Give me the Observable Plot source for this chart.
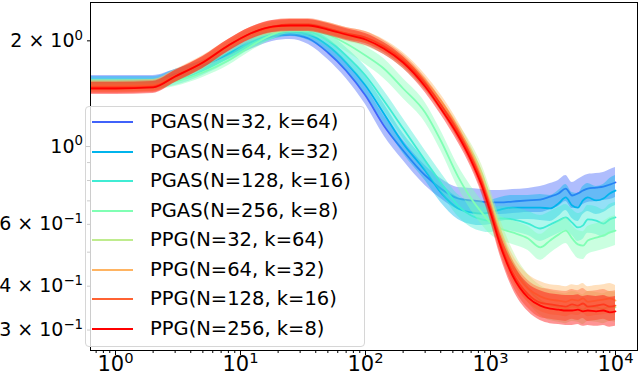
<!DOCTYPE html>
<html><head><meta charset="utf-8">
<script src="https://cdn.jsdelivr.net/npm/d3@7"></script>
<script src="https://cdn.jsdelivr.net/npm/@observablehq/plot@0.6"></script>
<style>
html,body{margin:0;padding:0;background:#fff;}
#wrap{position:relative;width:640px;height:376px;font-family:"DejaVu Sans",sans-serif;}
#legend{position:absolute;left:85px;top:106px;width:280px;height:241px;border:1px solid #d6d6d6;border-radius:4px;background:rgba(255,255,255,0.8);box-sizing:border-box;}
.row{position:absolute;left:0;width:100%;height:30px;}
.sw{position:absolute;left:6px;width:41px;height:2px;top:14px;}
.lb{position:absolute;left:64px;top:0;line-height:30px;font-size:19.5px;color:#000;white-space:nowrap;}
</style></head>
<body><div id="wrap"></div>
<script>
const xs = [0.631, 1, 2, 3, 5, 8, 12, 18, 25, 35, 50, 70, 100, 140, 200, 300, 400, 550, 700, 850, 1000, 1200, 1500, 2000, 2500, 3000, 3500, 4000, 4500, 5000, 5500, 6000, 7000, 8000, 9000, 10000];

const names = ["PGAS(N=32, k=64)", "PGAS(N=64, k=32)", "PGAS(N=128, k=16)", "PGAS(N=256, k=8)",
               "PPG(N=32, k=64)", "PPG(N=64, k=32)", "PPG(N=128, k=16)", "PPG(N=256, k=8)"];
const colors = ["#4062fa", "#00b4ec", "#40ecd4", "#80ffb4", "#bfec8e", "#ffb462", "#ff6232", "#ff0000"];

const pgas32 = [1.542,1.542,1.542,1.604,1.701,1.829,1.952,2.058,2.085,2.031,1.853,1.646,1.397,1.148,0.974,0.827,0.759,0.711,0.702,0.697,0.693,0.693,0.697,0.702,0.706,0.720,0.735,0.759,0.725,0.735,0.749,0.759,0.764,0.769,0.779,0.790];
const pgas64 = [1.532,1.532,1.532,1.604,1.701,1.841,1.978,2.085,2.126,2.085,1.940,1.735,1.492,1.242,1.020,0.854,0.740,0.666,0.649,0.644,0.649,0.661,0.670,0.670,0.670,0.666,0.688,0.716,0.679,0.670,0.702,0.716,0.702,0.711,0.735,0.749];
const pgas128 = [1.512,1.512,1.512,1.542,1.646,1.793,1.952,2.085,2.140,2.126,2.004,1.816,1.593,1.352,1.125,0.912,0.790,0.679,0.636,0.620,0.615,0.624,0.620,0.603,0.584,0.599,0.615,0.628,0.607,0.588,0.596,0.620,0.615,0.603,0.620,0.628];
const pgas256 = [1.502,1.502,1.502,1.532,1.625,1.758,1.928,2.085,2.168,2.154,2.085,1.965,1.816,1.668,1.463,1.250,1.040,0.821,0.711,0.649,0.607,0.584,0.569,0.547,0.516,0.540,0.561,0.576,0.547,0.526,0.522,0.540,0.550,0.558,0.569,0.576];
const ppg32 = [1.492,1.492,1.492,1.583,1.724,1.915,2.071,2.168,2.197,2.197,2.154,2.071,2.004,1.902,1.735,1.502,1.317,1.111,0.974,0.843,0.711,0.576,0.467,0.394,0.364,0.352,0.348,0.345,0.350,0.348,0.343,0.350,0.348,0.345,0.350,0.348];
const ppg64 = [1.482,1.482,1.492,1.593,1.747,1.940,2.099,2.183,2.212,2.212,2.168,2.099,2.044,1.940,1.781,1.542,1.352,1.125,0.955,0.811,0.679,0.550,0.452,0.394,0.374,0.366,0.364,0.361,0.366,0.364,0.369,0.361,0.364,0.366,0.369,0.364];
const ppg128 = [1.473,1.473,1.482,1.583,1.735,1.940,2.099,2.197,2.226,2.226,2.168,2.099,2.044,1.928,1.758,1.512,1.317,1.096,0.930,0.790,0.661,0.533,0.438,0.379,0.359,0.355,0.352,0.350,0.355,0.352,0.357,0.350,0.352,0.355,0.350,0.352];
const ppg256 = [1.463,1.463,1.473,1.583,1.735,1.940,2.099,2.197,2.212,2.212,2.154,2.085,2.018,1.902,1.735,1.482,1.283,1.075,0.912,0.774,0.649,0.522,0.429,0.371,0.352,0.345,0.343,0.341,0.341,0.343,0.339,0.341,0.339,0.341,0.337,0.339];

// multiplicative half-width of the shaded bands
const pgasSpread = [1.033,1.033,1.033,1.033,1.033,1.033,1.033,1.033,1.033,1.040,1.047,1.054,1.061,1.068,1.068,1.068,1.068,1.075,1.082,1.082,1.082,1.082,1.082,1.082,1.089,1.089,1.089,1.089,1.089,1.096,1.096,1.096,1.096,1.096,1.103,1.103];
const ppgSpread = [1.040,1.040,1.040,1.040,1.040,1.040,1.040,1.040,1.040,1.040,1.040,1.040,1.040,1.040,1.040,1.040,1.040,1.047,1.047,1.054,1.061,1.075,1.089,1.096,1.103,1.103,1.103,1.103,1.103,1.103,1.103,1.103,1.103,1.103,1.103,1.103];

const yTickValues = [0.3, 0.4, 0.6, 1, 2];
const yTickLabels = ["3 × 10^−1", "4 × 10^−1", "6 × 10^−1", "10^0", "2 × 10^0"];
const yMinorTicks = [0.5, 0.7, 0.8, 0.9];
const xTickValues = [1, 10, 100, 1000, 10000];
const xTickLabels = ["10^0", "10^1", "10^2", "10^3", "10^4"];
const xMinorTicks = [0.7,0.8,0.9,2,3,4,5,6,7,8,9,20,30,40,50,60,70,80,90,200,300,400,500,600,700,800,900,2000,3000,4000,5000,6000,7000,8000,9000];

const seriesY = [pgas32, pgas64, pgas128, pgas256, ppg32, ppg64, ppg128, ppg256];
const spreads = [pgasSpread, pgasSpread, pgasSpread, pgasSpread, ppgSpread, ppgSpread, ppgSpread, ppgSpread];

const marks = [];
seriesY.forEach((ys, si) => {
  const sp = spreads[si];
  const rows = xs.map((x, i) => ({x, y: ys[i], y1: ys[i] / sp[i], y2: ys[i] * sp[i]}));
  marks.push(Plot.areaY(rows, {x: "x", y1: "y1", y2: "y2", fill: colors[si], fillOpacity: 0.42, curve: "monotone-x", clip: true}));
  marks.push(Plot.lineY(rows, {x: "x", y: "y", stroke: colors[si], strokeWidth: 1.8, curve: "monotone-x", clip: true}));
});

const yLab = new Map(yTickValues.map((v, i) => [v, yTickLabels[i]]));
const xLab = new Map(xTickValues.map((v, i) => [v, xTickLabels[i]]));

marks.push(
  Plot.axisY({ticks: [1], tickSize: 5, tickPadding: 2.5, tickFormat: d => yLab.get(d), fontSize: 19, label: null, anchor: "left"}),
  Plot.axisY({ticks: [0.3, 0.4, 0.6, 2], tickSize: 3, tickPadding: 4.5, tickFormat: d => yLab.get(d), fontSize: 19, label: null, anchor: "left"}),
  Plot.axisY({ticks: yMinorTicks, tickSize: 3, tickFormat: () => "", label: null, anchor: "left"}),
  Plot.axisX({ticks: xTickValues, tickSize: 5, tickPadding: 0.5, tickFormat: d => xLab.get(d), fontSize: 21, label: null, anchor: "bottom"}),
  Plot.axisX({ticks: xMinorTicks, tickSize: 3, tickFormat: () => "", label: null, anchor: "bottom"}),
  Plot.frame({stroke: "#000", strokeWidth: 1})
);

const chart = Plot.plot({
  width: 640, height: 376,
  marginLeft: 90, marginRight: 3, marginTop: 2, marginBottom: 26,
  style: {fontFamily: "DejaVu Sans, sans-serif", color: "#000", background: "#fff", overflow: "visible"},
  x: {type: "log", domain: [0.631, 15000], label: null},
  y: {type: "log", domain: [0.2623, 2.572], label: null},
  marks
});

// superscripts for 10^n labels
chart.querySelectorAll("text").forEach(t => {
  const s = t.textContent;
  if (s.includes("^")) {
    const [base, exp] = s.split("^");
    t.textContent = base;
    const ts = document.createElementNS("http://www.w3.org/2000/svg", "tspan");
    ts.setAttribute("font-size", "70%");
    ts.setAttribute("dy", "-0.55em");
    ts.textContent = exp;
    t.appendChild(ts);
  }
});

const wrap = document.getElementById("wrap");
wrap.appendChild(chart);

const legend = document.createElement("div");
legend.id = "legend";
names.forEach((n, i) => {
  const row = document.createElement("div");
  row.className = "row";
  row.style.top = (16 - 15 + i * 29.5 - 1) + "px";
  const sw = document.createElement("div");
  sw.className = "sw";
  sw.style.background = colors[i];
  const lb = document.createElement("div");
  lb.className = "lb";
  lb.textContent = n;
  row.appendChild(sw); row.appendChild(lb);
  legend.appendChild(row);
});
wrap.appendChild(legend);
</script>
</body></html>
